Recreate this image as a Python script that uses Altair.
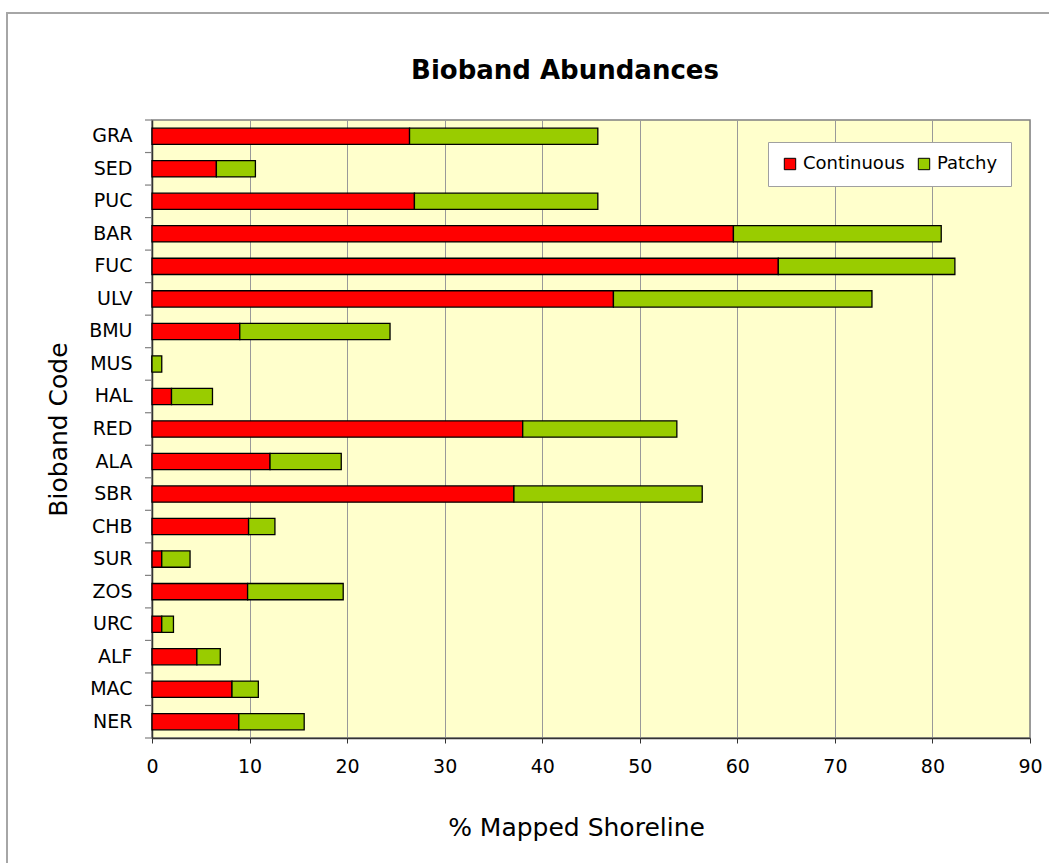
import altair as alt
import pandas as pd

# Bioband codes, top to bottom
codes = ["GRA", "SED", "PUC", "BAR", "FUC", "ULV", "BMU", "MUS", "HAL", "RED",
         "ALA", "SBR", "CHB", "SUR", "ZOS", "URC", "ALF", "MAC", "NER"]
# % of mapped shoreline with a continuous band
continuous = [26.4, 6.6, 26.9, 59.6, 64.2, 47.3, 9.0, 0.0, 2.0, 38.0,
              12.1, 37.1, 9.9, 1.0, 9.8, 1.0, 4.6, 8.2, 8.9]
# % of mapped shoreline with a patchy band
patchy = [19.3, 4.0, 18.8, 21.3, 18.1, 26.5, 15.4, 1.0, 4.2, 15.8,
          7.3, 19.3, 2.7, 2.9, 9.8, 1.2, 2.4, 2.7, 6.7]
series = ["Continuous", "Patchy"]
series_colors = ["#FF0000", "#99CC00"]
chart_title = "Bioband Abundances"

rows = []
for code, c, p in zip(codes, continuous, patchy):
    rows.append({"code": code, "type": "Continuous", "value": c, "order": 0})
    rows.append({"code": code, "type": "Patchy", "value": p, "order": 1})
df = pd.DataFrame(rows)

FONT = "DejaVu Sans"
W, H = 878, 618

y_scale = alt.Scale(paddingInner=0, paddingOuter=0)

bars = alt.Chart(df).mark_bar(
    height=alt.RelativeBandSize(0.5), stroke="black", strokeWidth=1.3
).encode(
    x=alt.X("value:Q", stack="zero",
            scale=alt.Scale(domain=[0, 90], nice=False),
            axis=alt.Axis(values=list(range(0, 91, 10)), title="% Mapped Shoreline",
                          grid=True, gridColor="#999999", gridWidth=1,
                          domainColor="#333333", domainWidth=1.5,
                          tickColor="#333333", tickSize=5,
                          labelFont=FONT, labelFontSize=19, labelColor="black",
                          labelPadding=14, labelFlush=False,
                          titleFont=FONT, titleFontSize=25, titleFontWeight="normal",
                          titleColor="black", titleX=424, titleY=89,
                          titleBaseline="middle")),
    y=alt.Y("code:N", sort=codes, scale=y_scale,
            axis=alt.Axis(title="Bioband Code", ticks=False, grid=False,
                          domainColor="#333333", domainWidth=1.5,
                          labelFont=FONT, labelFontSize=19, labelColor="black",
                          labelPadding=20,
                          titleFont=FONT, titleFontSize=25, titleFontWeight="normal",
                          titleColor="black", titleX=-86, titleY=309,
                          titleAngle=270, titleBaseline="alphabetic")),
    color=alt.Color("type:N", scale=alt.Scale(domain=series, range=series_colors),
                    legend=alt.Legend(title=None, orient="none", legendX=616, legendY=22,
                                      direction="horizontal", fillColor="white",
                                      strokeColor="#A0A0A0", padding=13,
                                      symbolType="square", symbolSize=130,
                                      symbolStrokeColor="black", symbolStrokeWidth=1,
                                      symbolOpacity=1,
                                      labelFont=FONT, labelFontSize=18, labelColor="black",
                                      labelOffset=4, columnPadding=10)),
    order=alt.Order("order:Q"),
)

# Category tick marks on the left axis, at the band edges
tick_df = pd.DataFrame({"code": codes})
ticks_top = alt.Chart(tick_df).mark_rule(color="#808080", strokeWidth=1.2).encode(
    y=alt.Y("code:N", sort=codes, scale=y_scale, bandPosition=0),
    x=alt.value(-7), x2=alt.value(0),
)
ticks_bottom = alt.Chart(pd.DataFrame({"code": codes[-1:]})).mark_rule(
    color="#808080", strokeWidth=1.2
).encode(
    y=alt.Y("code:N", sort=codes, scale=y_scale, bandPosition=1),
    x=alt.value(-7), x2=alt.value(0),
)

# Outer chart-area border
frame = alt.Chart(tick_df).mark_rect(
    fillOpacity=0, stroke="#A6A6A6", strokeWidth=1.5
).encode(
    x=alt.value(-145), x2=alt.value(1200), y=alt.value(-107), y2=alt.value(1000)
)

# Chart heading, centred over the chart area
heading = alt.Chart(pd.DataFrame({"t": [chart_title]})).mark_text(
    font=FONT, fontSize=26, fontWeight="bold", color="black",
    align="center", baseline="middle"
).encode(
    text="t:N", x=alt.value(413), y=alt.value(-49)
)

chart = alt.layer(frame, bars, ticks_top, ticks_bottom, heading).properties(
    width=W, height=H,
    autosize=alt.AutoSizeParams(type="none"),
    padding={"left": 152, "top": 120, "right": 19, "bottom": 125},
    background="white",
).configure_view(
    fill="#FFFFCC", stroke="#808080", strokeWidth=1.5
)

chart.save("out.html", embed_options={"renderer": "svg", "actions": False})
